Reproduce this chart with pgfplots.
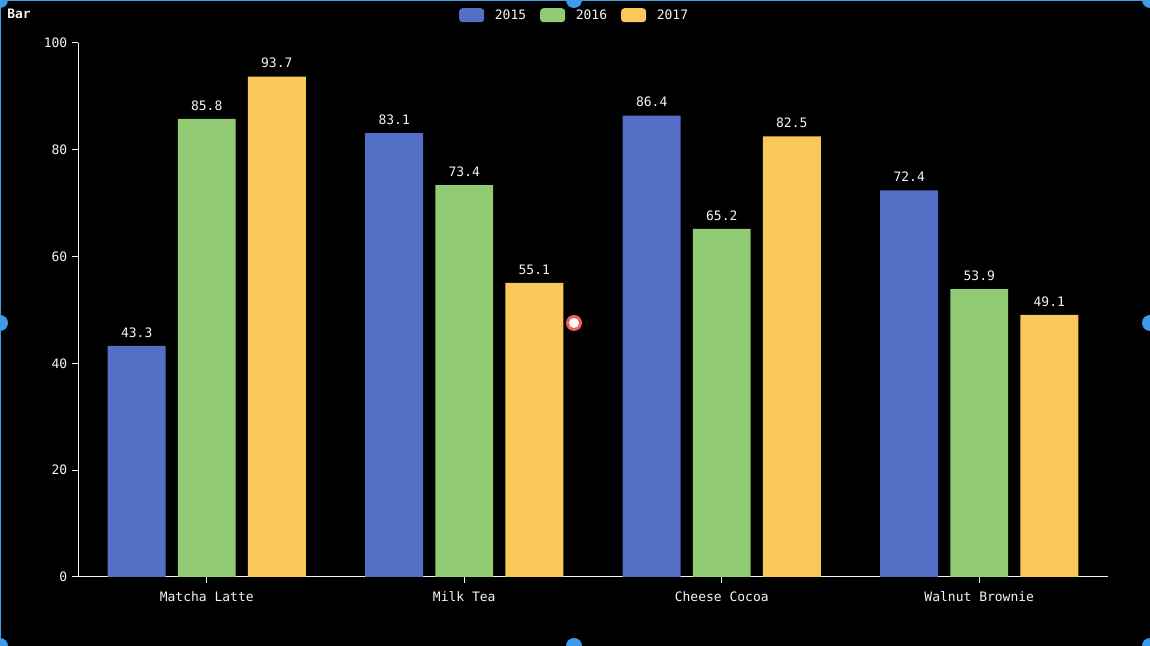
\documentclass[border=0pt]{standalone}
\usepackage{fontspec}
\setmainfont{DejaVu Sans Mono}
\usepackage{pgfplots}
\pgfplotsset{compat=1.18}
\definecolor{c1}{HTML}{5470C6}
\definecolor{c2}{HTML}{91CC75}
\definecolor{c3}{HTML}{FAC858}
\definecolor{hb}{HTML}{3D9BE9}
\definecolor{hr}{HTML}{F06060}
\definecolor{fg}{HTML}{F4F4F4}
\newcommand{\fs}{\fontsize{9.75}{11}\selectfont}
\begin{document}
\begin{tikzpicture}[x=0.75pt,y=0.75pt]
\fill[black] (0,0) rectangle (1150,646);
\path[use as bounding box] (0,0) rectangle (1150,646);
\begin{axis}[
  at={(58.5pt,51.75pt)}, anchor=south west,
  scale only axis, width=772.5pt, height=400.5pt,
  xmin=-0.5, xmax=3.5, ymin=0, ymax=100,
  ybar, bar width=0.225,
  axis x line*=bottom, axis y line*=left,
  axis line style={fg, -, line width=0.75pt},
  xtick={0,1,2,3},
  xticklabels={Matcha Latte, Milk Tea, Cheese Cocoa, Walnut Brownie},
  ytick={0,20,40,60,80,100},
  tick style={fg, line width=0.75pt},
  major tick length=4.5pt, tick align=outside,
  ticklabel style={font=\fs, text=fg},
  yticklabel style={xshift=0pt},
  xticklabel style={yshift=-3pt},
  /pgf/number format/assume math mode=true,
  nodes near coords,
  every node near coord/.append style={font=\fs, text=fg, anchor=base, yshift=6.5pt},
  legend image code/.code={\fill[#1, rounded corners=2.5pt] (0pt,-5.25pt) rectangle (18.75pt,5.25pt);},
  legend columns=3,
  legend style={draw=none, fill=none, text=fg, font=\fs, at={(rel axis cs:0.4825,1.052)}, anchor=center,
    /tikz/every odd column/.append style={column sep=6pt},
    /tikz/every even column/.append style={column sep=8.5pt}},
]
\addplot[fill=c1, draw=none, bar shift=-0.272] coordinates {(0,43.3) (1,83.1) (2,86.4) (3,72.4)};
\addplot[fill=c2, draw=none, bar shift=0] coordinates {(0,85.8) (1,73.4) (2,65.2) (3,53.9)};
\addplot[fill=c3, draw=none, bar shift=0.272] coordinates {(0,93.7) (1,55.1) (2,82.5) (3,49.1)};
\legend{2015,2016,2017}
\end{axis}
\node[anchor=west, font=\fs\bfseries, text=fg, inner sep=0pt] at (7,632) {Bar};
% editor frame decorations
\draw[hb, line width=1.5pt] (0,646) -- (1150,646);
\draw[hb, line width=1.5pt] (0,0) -- (0,646);
\foreach \p in {(0,646),(574,646),(1150,646),(0,323),(1150,323),(0,0),(574,0),(1150,0)}
  \fill[hb] \p circle (8);
\fill[hr] (574,323) circle (8);
\fill[white] (574,323) circle (5);
\end{tikzpicture}
\end{document}
